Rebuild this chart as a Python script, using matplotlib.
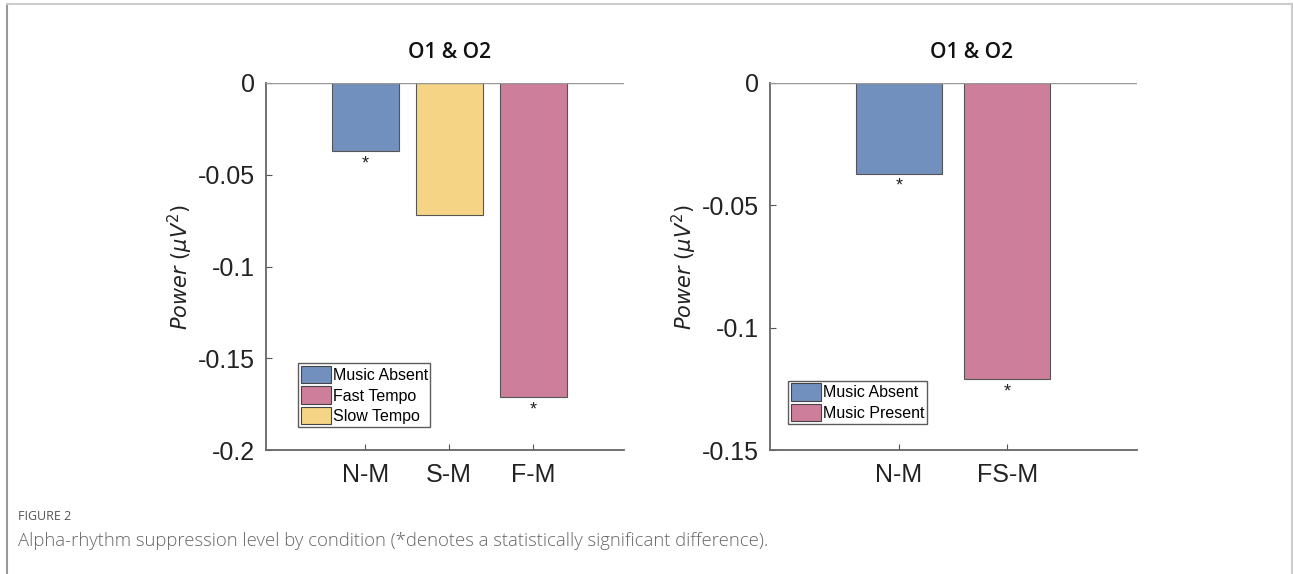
import matplotlib
matplotlib.use('Agg')
import matplotlib.pyplot as plt
from matplotlib.patches import Patch
from matplotlib.lines import Line2D

# left panel data
left_cats = ['N-M', 'S-M', 'F-M']
left_vals = [-0.037, -0.072, -0.171]
left_sig = [True, False, True]
left_colors = ['#7290bd', '#f6d486', '#cd7e9b']
left_legend = ['Music Absent', 'Fast Tempo', 'Slow Tempo']
left_legend_colors = ['#7290bd', '#cd7e9b', '#f6d486']
left_yticks = [0, -0.05, -0.1, -0.15, -0.2]
left_yticklabels = ['0', '-0.05', '-0.1', '-0.15', '-0.2']

# right panel data
right_cats = ['N-M', 'FS-M']
right_vals = [-0.037, -0.121]
right_sig = [True, True]
right_colors = ['#7290bd', '#cd7e9b']
right_legend = ['Music Absent', 'Music Present']
right_yticks = [0, -0.05, -0.1, -0.15]
right_yticklabels = ['0', '-0.05', '-0.1', '-0.15']

W, H = 1293, 574
fig = plt.figure(figsize=(W / 100, H / 100), dpi=100)
plt.rcParams['font.family'] = ['Liberation Sans', 'DejaVu Sans']


def panel(rect, cats, vals, sig, colors, ymin, yticks, yticklabels,
          xlim, leg_labels, leg_colors, leg_anchor):
    ax = fig.add_axes(rect)
    x = list(range(1, len(cats) + 1))
    ax.bar(x, vals, width=0.8, color=colors, edgecolor='#555555', linewidth=0.8, zorder=2)
    ax.axhline(0, color='#999999', linewidth=1.0, zorder=3)
    span = -ymin
    for xi, v, s in zip(x, vals, sig):
        if s:
            ax.text(xi, v - 0.035 * span, '*', ha='center', va='center',
                    fontsize=13, color='#222222')
    ax.set_xlim(*xlim)
    ax.set_ylim(ymin, 0)
    ax.set_xticks(x)
    ax.set_xticklabels(cats, fontsize=18, color='#222222')
    ax.set_yticks(yticks)
    ax.set_yticklabels(yticklabels, fontsize=18, color='#222222')
    ax.tick_params(direction='in', length=4, color='#555555', pad=8)
    ax.tick_params(axis='x', pad=9)
    for side in ['top', 'right']:
        ax.spines[side].set_visible(False)
    for side in ['left', 'bottom']:
        ax.spines[side].set_color('#666666')
        ax.spines[side].set_linewidth(1.3)
    ax.set_ylabel(r'$\mathit{Power\ (\mu V^2)}$', fontsize=15, color='#222222', labelpad=2)
    handles = [Patch(facecolor=c, edgecolor='#444444', linewidth=0.8) for c in leg_colors]
    leg = ax.legend(handles, leg_labels, loc='lower left', bbox_to_anchor=leg_anchor,
                    fontsize=11.5, frameon=True, fancybox=False, handlelength=1.9,
                    handleheight=1.3, handletextpad=0.1, labelspacing=0.2,
                    borderpad=0.15, borderaxespad=0)
    leg.get_frame().set_edgecolor('#333333')
    leg.get_frame().set_linewidth(1.0)
    return ax


ax1 = panel([266 / W, 1 - 450 / H, 358 / W, 367 / H], left_cats, left_vals, left_sig,
            left_colors, -0.2, left_yticks, left_yticklabels, (-0.18, 4.08),
            left_legend, left_legend_colors, (0.09, 0.063))
ax2 = panel([770 / W, 1 - 450 / H, 367 / W, 367 / H], right_cats, right_vals, right_sig,
            right_colors, -0.15, right_yticks, right_yticklabels, (-0.19, 3.2),
            right_legend, right_colors, (0.05, 0.072))

# titles
for xc in [450, 972]:
    fig.text(xc / W, 1 - 52 / H, 'O1 & O2', ha='center', va='center', fontsize=15,
             family=['Open Sans', 'DejaVu Sans'], fontweight='semibold', color='#111111')

# caption
fig.text(18 / W, 1 - 517 / H, 'FIGURE 2', ha='left', va='center', fontsize=9,
         family=['Open Sans', 'DejaVu Sans'], color='#555555')
fig.text(18 / W, 1 - 541 / H,
         'Alpha-rhythm suppression level by condition (*denotes a statistically significant difference).',
         ha='left', va='center', fontsize=13.3, family=['Open Sans', 'DejaVu Sans'],
         fontweight='light', color='#666666')

# outer frame
fc = '#999999'
fig.add_artist(Line2D([7 / W, 7 / W], [0, 1 - 4 / H], color=fc, linewidth=1.5))
fig.add_artist(Line2D([7 / W, 1], [1 - 4 / H, 1 - 4 / H], color='#cccccc', linewidth=1.5))
fig.add_artist(Line2D([1292 / W, 1292 / W], [0, 1 - 4 / H], color='#cccccc', linewidth=1.5))

fig.savefig('out.png', dpi=100)
